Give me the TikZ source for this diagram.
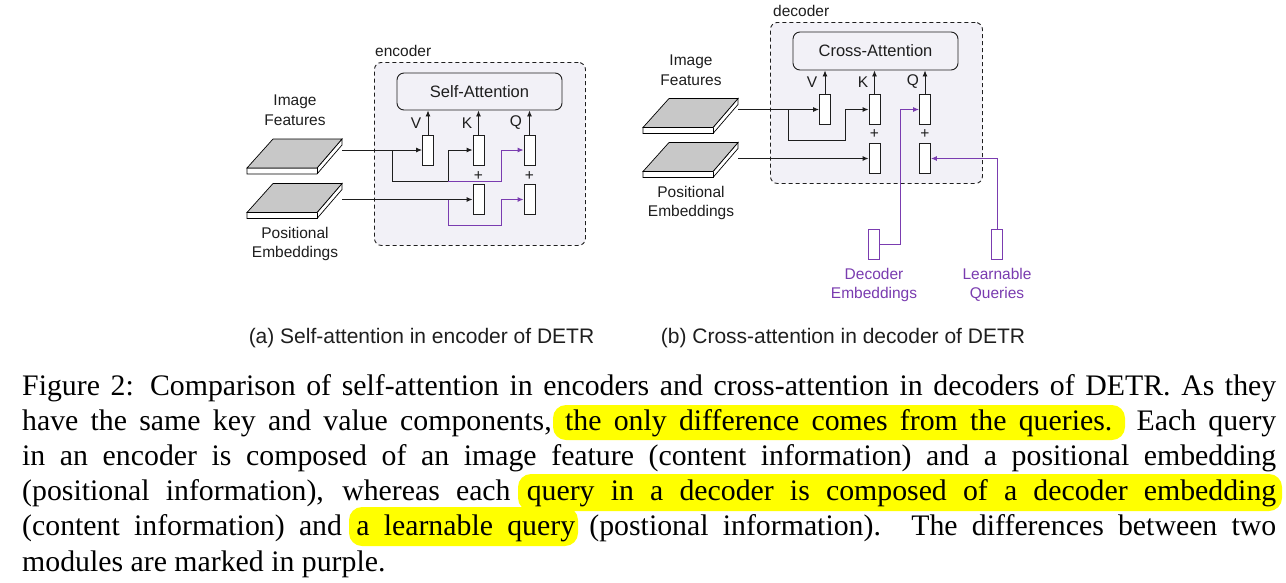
\documentclass[tikz,border=0pt]{standalone}
\usepackage{fontspec}
\setmainfont{Liberation Serif}
\setsansfont{Liberation Sans}
\usetikzlibrary{arrows.meta,calc}
\definecolor{hlyellow}{RGB}{255,255,0}
\definecolor{modbg}{RGB}{242,241,247}
\definecolor{slabgray}{RGB}{200,200,200}
\definecolor{dpurple}{RGB}{122,60,176}
\definecolor{ink}{RGB}{30,30,30}
\begin{document}
\begin{tikzpicture}[x=1pt,y=-1pt,
  lbl/.style={font=\sffamily\fontsize{15.5}{19.5}\selectfont, text=ink, align=center, inner sep=0pt},
  plbl/.style={lbl, text=dpurple},
  vecbox/.style={draw=ink, fill=white, line width=0.9pt, minimum width=11pt, minimum height=30pt, inner sep=0pt},
  pvecbox/.style={vecbox, draw=dpurple},
  modbox/.style={draw=ink, dash pattern=on 4pt off 3pt, line width=0.9pt, rounded corners=7pt, fill=modbg, inner sep=0pt, anchor=north west},
  attbox/.style={draw=ink, line width=0.9pt, rounded corners=7pt, inner sep=0pt, text=ink, font=\sffamily\fontsize{16.5}{19}\selectfont},
  conn/.style={draw=ink, line width=0.9pt},
  pconn/.style={draw=dpurple, line width=0.9pt},
  tip/.style={-{Latex[length=6pt,width=5pt]}},
  hl/.style={fill=hlyellow, rounded corners=13pt},
  capline/.style={anchor=base west, inner sep=0pt, font=\fontsize{29.8}{35}\selectfont},
  sublbl/.style={font=\sffamily\fontsize{21}{24}\selectfont, text=ink, inner sep=0pt},
  slabpic/.pic={
    \draw[line width=0.7pt, fill=white] (0,29) -- (70,29) -- (95,0) -- (95,6) -- (70,35) -- (0,35) -- cycle;
    \draw[line width=0.7pt, fill=slabgray] (0,29) -- (70,29) -- (95,0) -- (26,0) -- cycle;
    \draw[line width=0.7pt] (70,29) -- (70,35);
  }
]
\fill[white] (0,0) rectangle (1286,582);
\useasboundingbox (0,0) rectangle (1286,582);

% ---------------- encoder ----------------
\node[modbox, minimum width=211pt, minimum height=183pt] (enc) at (374,62) {};
\node[lbl, anchor=base west] (encl) at (375,56) {encoder};
\node[attbox, minimum width=165pt, minimum height=37pt] (sa) at (479.5,91.5) {Self-Attention};
\node[vecbox] (ev) at (428,150) {};
\node[vecbox] (ek) at (478.5,150) {};
\node[vecbox] (eq) at (529.5,150) {};
\node[vecbox] (ek2) at (478.5,199.5) {};
\node[vecbox] (eq2) at (529.5,199.5) {};
\node[lbl] (evl) at (416,123) {V};
\node[lbl] (ekl) at (467,123) {K};
\node[lbl] (eql) at (516,123) {Q};
\node[lbl] (ep1) at (478.5,176) {+};
\node[lbl] (ep2) at (529.5,176) {+};
\node[lbl] (eimgl) at (295,110) {Image\\Features};
\node[lbl] (eposl) at (295,244) {Positional\\Embeddings};

\coordinate (eimg) at (342,150);
\coordinate (epos) at (342,199.5);
\coordinate (eb) at (392,150);
\coordinate (ebk) at (448,181);
\coordinate (epk) at (501,181);
\coordinate (ek2b) at (448,199.5);
\coordinate (epk2) at (501,225);

\draw[conn,tip] (eimg) -- (ev.west);
\draw[conn,tip] (eb) |- (ebk) |- (ek.west);
\draw[pconn,tip] (ebk) -- (epk) |- (eq.west);
\draw[conn,tip] (epos) -- (ek2.west);
\draw[pconn,tip] (ek2b) |- (epk2) |- (eq2.west);
\draw[conn,tip] (ev.north) -- (ev.north |- sa.south);
\draw[conn,tip] (ek.north) -- (ek.north |- sa.south);
\draw[conn,tip] (eq.north) -- (eq.north |- sa.south);

\pic at (247,139) {slabpic};
\pic at (247,183.5) {slabpic};

% ---------------- decoder ----------------
\node[modbox, minimum width=212pt, minimum height=161pt] (dec) at (770,22) {};
\node[lbl, anchor=base west] (decl) at (773,16) {decoder};
\node[attbox, minimum width=165pt, minimum height=38pt] (ca) at (875.5,51) {Cross-Attention};
\node[vecbox] (dv) at (825,109.5) {};
\node[vecbox] (dk) at (874.5,109.5) {};
\node[vecbox] (dq) at (925,109.5) {};
\node[vecbox] (dk2) at (874.5,158.5) {};
\node[vecbox] (dq2) at (925,158.5) {};
\node[lbl] (dvl) at (812,82) {V};
\node[lbl] (dkl) at (863,82) {K};
\node[lbl] (dql) at (913,82) {Q};
\node[lbl] (dp1) at (874.5,134) {+};
\node[lbl] (dp2) at (925,134) {+};
\node[lbl] (dimgl) at (691,70) {Image\\Features};
\node[lbl] (dposl) at (691,203) {Positional\\Embeddings};
\node[pvecbox] (de) at (874,244.5) {};
\node[pvecbox] (lq) at (997,244.5) {};
\node[plbl] (del) at (874,285) {Decoder\\Embeddings};
\node[plbl] (lql) at (997,285) {Learnable\\Queries};

\coordinate (dimg) at (738,109.5);
\coordinate (dpos) at (738,158.5);
\coordinate (db) at (788,109.5);
\coordinate (dbk) at (845,140);
\coordinate (dqc) at (900,109.5);

\draw[conn,tip] (dimg) -- (dv.west);
\draw[conn,tip] (db) |- (dbk) |- (dk.west);
\draw[conn,tip] (dpos) -- (dk2.west);
\draw[pconn,tip] (de.east) -| (dqc) -- (dq.west);
\draw[pconn,tip] (lq.north) |- (dq2.east);
\draw[conn,tip] (dv.north) -- (dv.north |- ca.south);
\draw[conn,tip] (dk.north) -- (dk.north |- ca.south);
\draw[conn,tip] (dq.north) -- (dq.north |- ca.south);

\pic at (643,98.5) {slabpic};
\pic at (643,142.5) {slabpic};

% ---------------- sub-captions ----------------
\node[sublbl] (suba) at (421.5,338) {(a) Self-attention in encoder of DETR};
\node[sublbl] (subb) at (843,338) {(b) Cross-attention in decoder of DETR};

% ---------------- caption ----------------
\path[hl] (553,405) rectangle (1125,440);
\path[hl] (518,474) rectangle (1282,511);
\path[hl] (349,507) rectangle (578,546);

\node[capline] (c1) at (22,395) {\hbox to 1254pt{Figure 2: Comparison of self-attention in encoders and cross-attention in decoders of DETR. As they}};
\node[capline] (c2) at (22,430.2) {\hbox to 1254pt{have the same key and value components, the only difference comes from the queries. Each query}};
\node[capline] (c3) at (22,465.4) {\hbox to 1254pt{in an encoder is composed of an image feature (content information) and a positional embedding}};
\node[capline] (c4) at (22,500.6) {\hbox to 1254pt{(positional information), whereas each query in a decoder is composed of a decoder embedding}};
\node[capline] (c5) at (22,535.8) {\hbox to 1254pt{(content information) and a learnable query (postional information). The differences between two}};
\node[capline] (c6) at (22,571) {modules are marked in purple.};
\end{tikzpicture}
\end{document}
